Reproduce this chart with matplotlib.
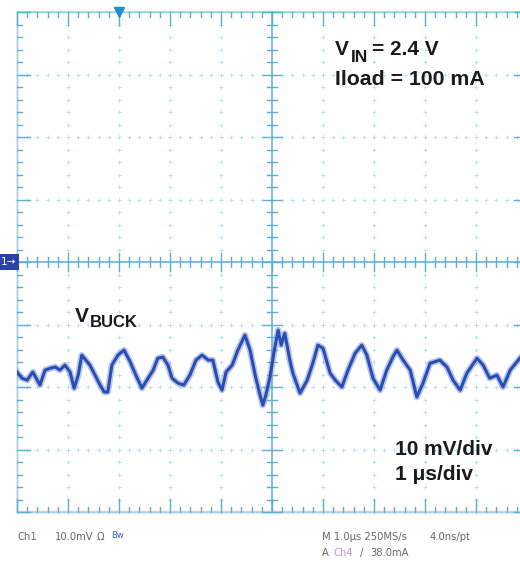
import numpy as np
import matplotlib.pyplot as plt
from matplotlib import transforms

# VBUCK ripple trace, time in us, voltage in mV (relative to graticule centre)
t_us = [0.00, 0.10, 0.20, 0.31, 0.45, 0.55, 0.65, 0.75, 0.84, 0.94,
        1.04, 1.12, 1.20, 1.27, 1.35, 1.43, 1.53, 1.63, 1.71, 1.78,
        1.86, 1.98, 2.10, 2.22, 2.33, 2.45, 2.57, 2.67, 2.76, 2.86,
        2.96, 3.04, 3.16, 3.27, 3.39, 3.51, 3.63, 3.75, 3.84, 3.94,
        4.02, 4.10, 4.22, 4.33, 4.47, 4.57, 4.67, 4.75, 4.82, 4.88,
        4.96, 5.04, 5.12, 5.18, 5.25, 5.35, 5.41, 5.55, 5.69, 5.80,
        5.90, 6.00, 6.14, 6.24, 6.37, 6.49, 6.63, 6.76, 6.86, 6.98,
        7.12, 7.25, 7.37, 7.45, 7.57, 7.71, 7.84, 7.96, 8.10, 8.29,
        8.43, 8.55, 8.69, 8.82, 9.02, 9.14, 9.27, 9.41, 9.53, 9.67,
        9.86]
v_mv = [-17.6, -18.6, -18.9, -17.6, -19.7, -17.3, -17.0, -16.8, -17.3, -16.5,
        -17.6, -20.2, -18.1, -14.9, -15.7, -16.5, -18.1, -19.7, -20.8, -20.8,
        -16.5, -14.9, -14.1, -16.0, -18.1, -20.2, -18.6, -17.3, -15.4, -15.2,
        -16.5, -18.6, -19.4, -19.7, -18.1, -15.7, -14.9, -15.7, -15.7, -19.2,
        -20.5, -17.6, -16.5, -14.1, -11.7, -14.1, -18.1, -20.8, -22.9, -21.3,
        -18.4, -14.4, -10.9, -13.3, -11.4, -15.7, -17.8, -21.0, -18.9, -16.2,
        -13.3, -13.8, -17.8, -18.9, -20.0, -17.3, -14.6, -13.3, -14.9, -18.6,
        -20.5, -17.3, -15.2, -14.1, -15.7, -17.3, -21.6, -19.4, -16.2, -15.7,
        -16.8, -18.9, -20.5, -17.8, -15.4, -16.5, -18.6, -18.1, -20.0, -17.3,
        -15.4]

W, H = 520, 561
fig = plt.figure(figsize=(W / 100, H / 100), dpi=100)
ax = fig.add_axes([17 / W, 1 - 512 / H, 510 / W, 500 / H])
ax.set_xlim(0, 10)
ax.set_ylim(-40, 40)
ax.axis('off')

dx = 10 / 510   # one pixel in us
dy = 80 / 500   # one pixel in mV

grid_col = '#bfe1f1'
tick_col = '#5aaed6'
frame_col = '#9fcfe6'
pink = '#f4c8c0'

xs = np.round(np.arange(0, 10.001, 0.2), 2)
ys = np.round(np.arange(-40, 40.001, 2), 2)

# dotted division lines
for k in range(1, 10):
    if k != 5:
        ax.plot([k] * len(ys), ys, ls='none', marker='+', ms=2.5, mew=0.7,
                color=grid_col, clip_on=False)
for v in (-30, -20, -10, 10, 20, 30):
    ax.plot(xs, [v] * len(xs), ls='none', marker='+', ms=2.5, mew=0.7,
            color=grid_col, clip_on=False)

# frame
ax.plot([0, 10, 10, 0, 0], [-40 + dy, -40 + dy, 40 + dy, 40 + dy, -40 + dy],
        color=pink, lw=1.0, clip_on=False)
ax.plot([0, 10, 10, 0, 0], [-40, -40, 40, 40, -40], color=frame_col, lw=1.0,
        clip_on=False)

# border ticks pointing inward
for x in xs:
    L = 13 if abs(x - round(x)) < 1e-6 else 5
    ax.plot([x, x], [40, 40 - L * dy], color=tick_col, lw=1.0, clip_on=False)
    ax.plot([x, x], [-40, -40 + L * dy], color=tick_col, lw=1.0, clip_on=False)
for y in ys:
    L = 13 if abs(y / 10 - round(y / 10)) < 1e-6 else 5
    ax.plot([0, L * dx], [y, y], color=tick_col, lw=1.0, clip_on=False)
    ax.plot([10, 10 - L * dx], [y, y], color=tick_col, lw=1.0, clip_on=False)

# centre cross with minor ticks
ax.plot([0, 10], [0, 0], color=tick_col, lw=1.1, clip_on=False)
ax.plot([5, 5], [-40, 40], color=tick_col, lw=1.1, clip_on=False)
for x in xs:
    L = 9 if abs(x - round(x)) < 1e-6 else 5
    ax.plot([x, x], [-L * dy, L * dy], color=tick_col, lw=1.0, clip_on=False)
for y in ys:
    L = 9 if abs(y / 10 - round(y / 10)) < 1e-6 else 5
    ax.plot([5 - L * dx, 5 + L * dx], [y, y], color=tick_col, lw=1.0,
            clip_on=False)

# waveform
ax.plot(t_us, v_mv, color='#7f98dc', lw=4.6, alpha=0.55)
ax.plot(t_us, v_mv, color='#2a4db3', lw=2.2)

# trigger position marker and channel 1 ground marker
ax.plot(2, 40, marker='v', ms=7, color='#1d8fd0', clip_on=False)
blend = transforms.blended_transform_factory(ax.transAxes, ax.transData)
ax.text(-0.002, 0, "1\u2192", transform=blend, ha='right', va='center',
        color='white', fontsize=7.5, family='DejaVu Sans',
        bbox=dict(boxstyle='square,pad=0.25', fc='#2b42ad', ec='none'),
        clip_on=False)


def px(x, y):
    return x / W, 1 - y / H


bold = dict(family='Liberation Sans', weight='bold', color='#1a1a1a',
            va='baseline', ha='left')

fig.text(*px(335, 55), "V", fontsize=15, **bold)
fig.text(*px(351, 62), "IN", fontsize=12.5, **bold)
fig.text(*px(372, 55), "= 2.4 V", fontsize=15, **bold)
fig.text(*px(335, 85), "Iload = 100 mA", fontsize=15.3, **bold)

fig.text(*px(75, 322), "V", fontsize=15, **bold)
fig.text(*px(90, 327), "BUCK", fontsize=12, **bold)

fig.text(*px(395, 455), "10 mV/div", fontsize=15, **bold)
fig.text(*px(395, 480), "1 \u03bcs/div", fontsize=15, **bold)

# scope status line
stat = dict(family='DejaVu Sans', stretch='condensed', fontsize=8,
            color='#666666', va='center', ha='left')
fig.text(*px(17, 537), "Ch1", **stat)
fig.text(*px(55, 537), "10.0mV", **stat)
fig.text(*px(97, 537), "\u03a9", **stat)
fig.text(*px(111, 535), "Bw", family='DejaVu Sans', fontsize=6,
         color='#2a5fb0', va='center', ha='left')
fig.text(*px(322, 537), "M 1.0\u03bcs 250MS/s", **stat)
fig.text(*px(430, 537), "4.0ns/pt", **stat)
fig.text(*px(322, 553), "A", **stat)
fig.text(*px(333, 553), "Ch4", **dict(stat, color='#c98ad6'))
fig.text(*px(360, 553), "\u2215", **stat)
fig.text(*px(370, 553), "38.0mA", **stat)

fig.savefig("out.png", dpi=100)
